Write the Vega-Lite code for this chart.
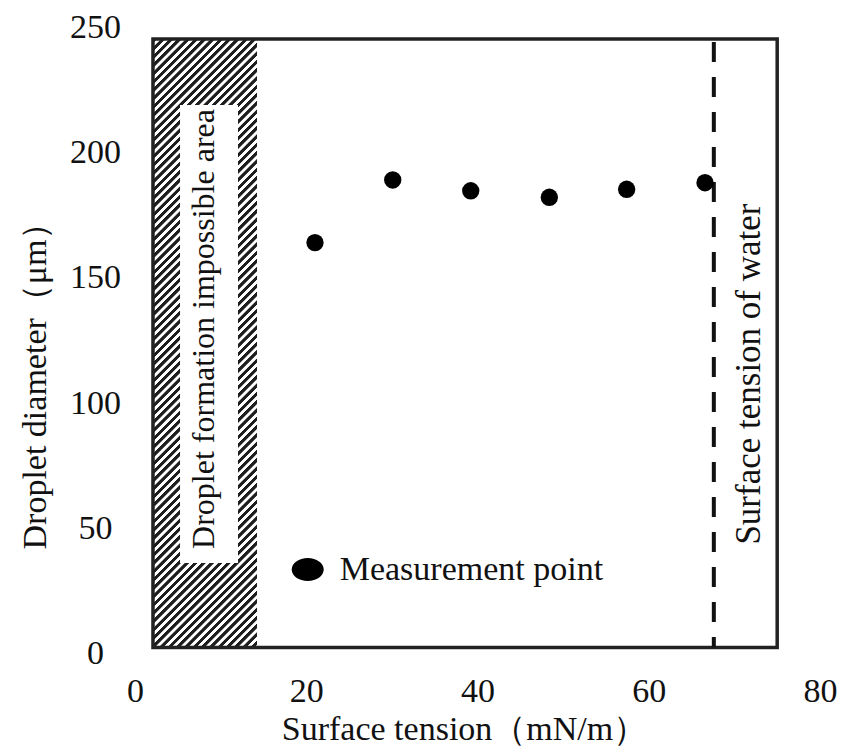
{
  "$schema": "https://vega.github.io/schema/vega-lite/v6.json",
  "width": 685,
  "height": 626,
  "autosize": {"type": "none"},
  "padding": {"left": 135, "top": 27.5, "right": 22, "bottom": 93.5},
  "background": "#ffffff",
  "config": {
    "view": {"stroke": null},
    "axis": {
      "labelFont": "Liberation Serif", "titleFont": "Liberation Serif",
      "labelFontSize": 34, "titleFontSize": 34, "titleFontWeight": "normal",
      "labelColor": "#111111", "titleColor": "#111111",
      "ticks": false, "domain": false, "grid": false,
      "labelFlush": false, "labelOverlap": false, "labelBound": false
    }
  },
  "layer": [
    {
      "data": {"values": [{"from": 2.1, "to": 14.25, "low": 2.4, "high": 245.4}]},
      "mark": {"type": "rect", "strokeWidth": 0,
        "fill": {"gradient": "linear", "x1": 0, "y1": 0, "x2": 0.2265, "y2": 1.3254, "stops": [
{"offset":0,"color":"#1e1e1e"},{"offset":0.0045,"color":"#1e1e1e"},{"offset":0.0055,"color":"#fff"},{"offset":0.0095,"color":"#fff"},
{"offset":0.01,"color":"#1e1e1e"},{"offset":0.0145,"color":"#1e1e1e"},{"offset":0.0155,"color":"#fff"},{"offset":0.0195,"color":"#fff"},
{"offset":0.02,"color":"#1e1e1e"},{"offset":0.0245,"color":"#1e1e1e"},{"offset":0.0255,"color":"#fff"},{"offset":0.0295,"color":"#fff"},
{"offset":0.03,"color":"#1e1e1e"},{"offset":0.0345,"color":"#1e1e1e"},{"offset":0.0355,"color":"#fff"},{"offset":0.0395,"color":"#fff"},
{"offset":0.04,"color":"#1e1e1e"},{"offset":0.0445,"color":"#1e1e1e"},{"offset":0.0455,"color":"#fff"},{"offset":0.0495,"color":"#fff"},
{"offset":0.05,"color":"#1e1e1e"},{"offset":0.0545,"color":"#1e1e1e"},{"offset":0.0555,"color":"#fff"},{"offset":0.0595,"color":"#fff"},
{"offset":0.06,"color":"#1e1e1e"},{"offset":0.0645,"color":"#1e1e1e"},{"offset":0.0655,"color":"#fff"},{"offset":0.0695,"color":"#fff"},
{"offset":0.07,"color":"#1e1e1e"},{"offset":0.0745,"color":"#1e1e1e"},{"offset":0.0755,"color":"#fff"},{"offset":0.0795,"color":"#fff"},
{"offset":0.08,"color":"#1e1e1e"},{"offset":0.0845,"color":"#1e1e1e"},{"offset":0.0855,"color":"#fff"},{"offset":0.0895,"color":"#fff"},
{"offset":0.09,"color":"#1e1e1e"},{"offset":0.0945,"color":"#1e1e1e"},{"offset":0.0955,"color":"#fff"},{"offset":0.0995,"color":"#fff"},
{"offset":0.10,"color":"#1e1e1e"},{"offset":0.1045,"color":"#1e1e1e"},{"offset":0.1055,"color":"#fff"},{"offset":0.1095,"color":"#fff"},
{"offset":0.11,"color":"#1e1e1e"},{"offset":0.1145,"color":"#1e1e1e"},{"offset":0.1155,"color":"#fff"},{"offset":0.1195,"color":"#fff"},
{"offset":0.12,"color":"#1e1e1e"},{"offset":0.1245,"color":"#1e1e1e"},{"offset":0.1255,"color":"#fff"},{"offset":0.1295,"color":"#fff"},
{"offset":0.13,"color":"#1e1e1e"},{"offset":0.1345,"color":"#1e1e1e"},{"offset":0.1355,"color":"#fff"},{"offset":0.1395,"color":"#fff"},
{"offset":0.14,"color":"#1e1e1e"},{"offset":0.1445,"color":"#1e1e1e"},{"offset":0.1455,"color":"#fff"},{"offset":0.1495,"color":"#fff"},
{"offset":0.15,"color":"#1e1e1e"},{"offset":0.1545,"color":"#1e1e1e"},{"offset":0.1555,"color":"#fff"},{"offset":0.1595,"color":"#fff"},
{"offset":0.16,"color":"#1e1e1e"},{"offset":0.1645,"color":"#1e1e1e"},{"offset":0.1655,"color":"#fff"},{"offset":0.1695,"color":"#fff"},
{"offset":0.17,"color":"#1e1e1e"},{"offset":0.1745,"color":"#1e1e1e"},{"offset":0.1755,"color":"#fff"},{"offset":0.1795,"color":"#fff"},
{"offset":0.18,"color":"#1e1e1e"},{"offset":0.1845,"color":"#1e1e1e"},{"offset":0.1855,"color":"#fff"},{"offset":0.1895,"color":"#fff"},
{"offset":0.19,"color":"#1e1e1e"},{"offset":0.1945,"color":"#1e1e1e"},{"offset":0.1955,"color":"#fff"},{"offset":0.1995,"color":"#fff"},
{"offset":0.20,"color":"#1e1e1e"},{"offset":0.2045,"color":"#1e1e1e"},{"offset":0.2055,"color":"#fff"},{"offset":0.2095,"color":"#fff"},
{"offset":0.21,"color":"#1e1e1e"},{"offset":0.2145,"color":"#1e1e1e"},{"offset":0.2155,"color":"#fff"},{"offset":0.2195,"color":"#fff"},
{"offset":0.22,"color":"#1e1e1e"},{"offset":0.2245,"color":"#1e1e1e"},{"offset":0.2255,"color":"#fff"},{"offset":0.2295,"color":"#fff"},
{"offset":0.23,"color":"#1e1e1e"},{"offset":0.2345,"color":"#1e1e1e"},{"offset":0.2355,"color":"#fff"},{"offset":0.2395,"color":"#fff"},
{"offset":0.24,"color":"#1e1e1e"},{"offset":0.2445,"color":"#1e1e1e"},{"offset":0.2455,"color":"#fff"},{"offset":0.2495,"color":"#fff"},
{"offset":0.25,"color":"#1e1e1e"},{"offset":0.2545,"color":"#1e1e1e"},{"offset":0.2555,"color":"#fff"},{"offset":0.2595,"color":"#fff"},
{"offset":0.26,"color":"#1e1e1e"},{"offset":0.2645,"color":"#1e1e1e"},{"offset":0.2655,"color":"#fff"},{"offset":0.2695,"color":"#fff"},
{"offset":0.27,"color":"#1e1e1e"},{"offset":0.2745,"color":"#1e1e1e"},{"offset":0.2755,"color":"#fff"},{"offset":0.2795,"color":"#fff"},
{"offset":0.28,"color":"#1e1e1e"},{"offset":0.2845,"color":"#1e1e1e"},{"offset":0.2855,"color":"#fff"},{"offset":0.2895,"color":"#fff"},
{"offset":0.29,"color":"#1e1e1e"},{"offset":0.2945,"color":"#1e1e1e"},{"offset":0.2955,"color":"#fff"},{"offset":0.2995,"color":"#fff"},
{"offset":0.30,"color":"#1e1e1e"},{"offset":0.3045,"color":"#1e1e1e"},{"offset":0.3055,"color":"#fff"},{"offset":0.3095,"color":"#fff"},
{"offset":0.31,"color":"#1e1e1e"},{"offset":0.3145,"color":"#1e1e1e"},{"offset":0.3155,"color":"#fff"},{"offset":0.3195,"color":"#fff"},
{"offset":0.32,"color":"#1e1e1e"},{"offset":0.3245,"color":"#1e1e1e"},{"offset":0.3255,"color":"#fff"},{"offset":0.3295,"color":"#fff"},
{"offset":0.33,"color":"#1e1e1e"},{"offset":0.3345,"color":"#1e1e1e"},{"offset":0.3355,"color":"#fff"},{"offset":0.3395,"color":"#fff"},
{"offset":0.34,"color":"#1e1e1e"},{"offset":0.3445,"color":"#1e1e1e"},{"offset":0.3455,"color":"#fff"},{"offset":0.3495,"color":"#fff"},
{"offset":0.35,"color":"#1e1e1e"},{"offset":0.3545,"color":"#1e1e1e"},{"offset":0.3555,"color":"#fff"},{"offset":0.3595,"color":"#fff"},
{"offset":0.36,"color":"#1e1e1e"},{"offset":0.3645,"color":"#1e1e1e"},{"offset":0.3655,"color":"#fff"},{"offset":0.3695,"color":"#fff"},
{"offset":0.37,"color":"#1e1e1e"},{"offset":0.3745,"color":"#1e1e1e"},{"offset":0.3755,"color":"#fff"},{"offset":0.3795,"color":"#fff"},
{"offset":0.38,"color":"#1e1e1e"},{"offset":0.3845,"color":"#1e1e1e"},{"offset":0.3855,"color":"#fff"},{"offset":0.3895,"color":"#fff"},
{"offset":0.39,"color":"#1e1e1e"},{"offset":0.3945,"color":"#1e1e1e"},{"offset":0.3955,"color":"#fff"},{"offset":0.3995,"color":"#fff"},
{"offset":0.40,"color":"#1e1e1e"},{"offset":0.4045,"color":"#1e1e1e"},{"offset":0.4055,"color":"#fff"},{"offset":0.4095,"color":"#fff"},
{"offset":0.41,"color":"#1e1e1e"},{"offset":0.4145,"color":"#1e1e1e"},{"offset":0.4155,"color":"#fff"},{"offset":0.4195,"color":"#fff"},
{"offset":0.42,"color":"#1e1e1e"},{"offset":0.4245,"color":"#1e1e1e"},{"offset":0.4255,"color":"#fff"},{"offset":0.4295,"color":"#fff"},
{"offset":0.43,"color":"#1e1e1e"},{"offset":0.4345,"color":"#1e1e1e"},{"offset":0.4355,"color":"#fff"},{"offset":0.4395,"color":"#fff"},
{"offset":0.44,"color":"#1e1e1e"},{"offset":0.4445,"color":"#1e1e1e"},{"offset":0.4455,"color":"#fff"},{"offset":0.4495,"color":"#fff"},
{"offset":0.45,"color":"#1e1e1e"},{"offset":0.4545,"color":"#1e1e1e"},{"offset":0.4555,"color":"#fff"},{"offset":0.4595,"color":"#fff"},
{"offset":0.46,"color":"#1e1e1e"},{"offset":0.4645,"color":"#1e1e1e"},{"offset":0.4655,"color":"#fff"},{"offset":0.4695,"color":"#fff"},
{"offset":0.47,"color":"#1e1e1e"},{"offset":0.4745,"color":"#1e1e1e"},{"offset":0.4755,"color":"#fff"},{"offset":0.4795,"color":"#fff"},
{"offset":0.48,"color":"#1e1e1e"},{"offset":0.4845,"color":"#1e1e1e"},{"offset":0.4855,"color":"#fff"},{"offset":0.4895,"color":"#fff"},
{"offset":0.49,"color":"#1e1e1e"},{"offset":0.4945,"color":"#1e1e1e"},{"offset":0.4955,"color":"#fff"},{"offset":0.4995,"color":"#fff"},
{"offset":0.50,"color":"#1e1e1e"},{"offset":0.5045,"color":"#1e1e1e"},{"offset":0.5055,"color":"#fff"},{"offset":0.5095,"color":"#fff"},
{"offset":0.51,"color":"#1e1e1e"},{"offset":0.5145,"color":"#1e1e1e"},{"offset":0.5155,"color":"#fff"},{"offset":0.5195,"color":"#fff"},
{"offset":0.52,"color":"#1e1e1e"},{"offset":0.5245,"color":"#1e1e1e"},{"offset":0.5255,"color":"#fff"},{"offset":0.5295,"color":"#fff"},
{"offset":0.53,"color":"#1e1e1e"},{"offset":0.5345,"color":"#1e1e1e"},{"offset":0.5355,"color":"#fff"},{"offset":0.5395,"color":"#fff"},
{"offset":0.54,"color":"#1e1e1e"},{"offset":0.5445,"color":"#1e1e1e"},{"offset":0.5455,"color":"#fff"},{"offset":0.5495,"color":"#fff"},
{"offset":0.55,"color":"#1e1e1e"},{"offset":0.5545,"color":"#1e1e1e"},{"offset":0.5555,"color":"#fff"},{"offset":0.5595,"color":"#fff"},
{"offset":0.56,"color":"#1e1e1e"},{"offset":0.5645,"color":"#1e1e1e"},{"offset":0.5655,"color":"#fff"},{"offset":0.5695,"color":"#fff"},
{"offset":0.57,"color":"#1e1e1e"},{"offset":0.5745,"color":"#1e1e1e"},{"offset":0.5755,"color":"#fff"},{"offset":0.5795,"color":"#fff"},
{"offset":0.58,"color":"#1e1e1e"},{"offset":0.5845,"color":"#1e1e1e"},{"offset":0.5855,"color":"#fff"},{"offset":0.5895,"color":"#fff"},
{"offset":0.59,"color":"#1e1e1e"},{"offset":0.5945,"color":"#1e1e1e"},{"offset":0.5955,"color":"#fff"},{"offset":0.5995,"color":"#fff"},
{"offset":0.60,"color":"#1e1e1e"},{"offset":0.6045,"color":"#1e1e1e"},{"offset":0.6055,"color":"#fff"},{"offset":0.6095,"color":"#fff"},
{"offset":0.61,"color":"#1e1e1e"},{"offset":0.6145,"color":"#1e1e1e"},{"offset":0.6155,"color":"#fff"},{"offset":0.6195,"color":"#fff"},
{"offset":0.62,"color":"#1e1e1e"},{"offset":0.6245,"color":"#1e1e1e"},{"offset":0.6255,"color":"#fff"},{"offset":0.6295,"color":"#fff"},
{"offset":0.63,"color":"#1e1e1e"},{"offset":0.6345,"color":"#1e1e1e"},{"offset":0.6355,"color":"#fff"},{"offset":0.6395,"color":"#fff"},
{"offset":0.64,"color":"#1e1e1e"},{"offset":0.6445,"color":"#1e1e1e"},{"offset":0.6455,"color":"#fff"},{"offset":0.6495,"color":"#fff"},
{"offset":0.65,"color":"#1e1e1e"},{"offset":0.6545,"color":"#1e1e1e"},{"offset":0.6555,"color":"#fff"},{"offset":0.6595,"color":"#fff"},
{"offset":0.66,"color":"#1e1e1e"},{"offset":0.6645,"color":"#1e1e1e"},{"offset":0.6655,"color":"#fff"},{"offset":0.6695,"color":"#fff"},
{"offset":0.67,"color":"#1e1e1e"},{"offset":0.6745,"color":"#1e1e1e"},{"offset":0.6755,"color":"#fff"},{"offset":0.6795,"color":"#fff"},
{"offset":0.68,"color":"#1e1e1e"},{"offset":0.6845,"color":"#1e1e1e"},{"offset":0.6855,"color":"#fff"},{"offset":0.6895,"color":"#fff"},
{"offset":0.69,"color":"#1e1e1e"},{"offset":0.6945,"color":"#1e1e1e"},{"offset":0.6955,"color":"#fff"},{"offset":0.6995,"color":"#fff"},
{"offset":0.70,"color":"#1e1e1e"},{"offset":0.7045,"color":"#1e1e1e"},{"offset":0.7055,"color":"#fff"},{"offset":0.7095,"color":"#fff"},
{"offset":0.71,"color":"#1e1e1e"},{"offset":0.7145,"color":"#1e1e1e"},{"offset":0.7155,"color":"#fff"},{"offset":0.7195,"color":"#fff"},
{"offset":0.72,"color":"#1e1e1e"},{"offset":0.7245,"color":"#1e1e1e"},{"offset":0.7255,"color":"#fff"},{"offset":0.7295,"color":"#fff"},
{"offset":0.73,"color":"#1e1e1e"},{"offset":0.7345,"color":"#1e1e1e"},{"offset":0.7355,"color":"#fff"},{"offset":0.7395,"color":"#fff"},
{"offset":0.74,"color":"#1e1e1e"},{"offset":0.7445,"color":"#1e1e1e"},{"offset":0.7455,"color":"#fff"},{"offset":0.7495,"color":"#fff"},
{"offset":0.75,"color":"#1e1e1e"},{"offset":0.7545,"color":"#1e1e1e"},{"offset":0.7555,"color":"#fff"},{"offset":0.7595,"color":"#fff"},
{"offset":0.76,"color":"#1e1e1e"},{"offset":0.7645,"color":"#1e1e1e"},{"offset":0.7655,"color":"#fff"},{"offset":0.7695,"color":"#fff"},
{"offset":0.77,"color":"#1e1e1e"},{"offset":0.7745,"color":"#1e1e1e"},{"offset":0.7755,"color":"#fff"},{"offset":0.7795,"color":"#fff"},
{"offset":0.78,"color":"#1e1e1e"},{"offset":0.7845,"color":"#1e1e1e"},{"offset":0.7855,"color":"#fff"},{"offset":0.7895,"color":"#fff"},
{"offset":0.79,"color":"#1e1e1e"},{"offset":0.7945,"color":"#1e1e1e"},{"offset":0.7955,"color":"#fff"},{"offset":0.7995,"color":"#fff"},
{"offset":0.80,"color":"#1e1e1e"},{"offset":0.8045,"color":"#1e1e1e"},{"offset":0.8055,"color":"#fff"},{"offset":0.8095,"color":"#fff"},
{"offset":0.81,"color":"#1e1e1e"},{"offset":0.8145,"color":"#1e1e1e"},{"offset":0.8155,"color":"#fff"},{"offset":0.8195,"color":"#fff"},
{"offset":0.82,"color":"#1e1e1e"},{"offset":0.8245,"color":"#1e1e1e"},{"offset":0.8255,"color":"#fff"},{"offset":0.8295,"color":"#fff"},
{"offset":0.83,"color":"#1e1e1e"},{"offset":0.8345,"color":"#1e1e1e"},{"offset":0.8355,"color":"#fff"},{"offset":0.8395,"color":"#fff"},
{"offset":0.84,"color":"#1e1e1e"},{"offset":0.8445,"color":"#1e1e1e"},{"offset":0.8455,"color":"#fff"},{"offset":0.8495,"color":"#fff"},
{"offset":0.85,"color":"#1e1e1e"},{"offset":0.8545,"color":"#1e1e1e"},{"offset":0.8555,"color":"#fff"},{"offset":0.8595,"color":"#fff"},
{"offset":0.86,"color":"#1e1e1e"},{"offset":0.8645,"color":"#1e1e1e"},{"offset":0.8655,"color":"#fff"},{"offset":0.8695,"color":"#fff"}
        ]}},
      "encoding": {
        "x": {"field": "from", "type": "quantitative", "scale": {"domain": [0, 80], "nice": false}, "title": "Surface tension（mN/m）"},
        "x2": {"field": "to"},
        "y": {"field": "low", "type": "quantitative", "scale": {"domain": [0, 250], "nice": false}, "title": "Droplet diameter（μm）"},
        "y2": {"field": "high"}
      }
    },
    {
      "data": {"values": [{"from": 5.26, "to": 12.03, "low": 36.1, "high": 219.0}]},
      "mark": {"type": "rect", "fill": "#ffffff", "strokeWidth": 0},
      "encoding": {
        "x": {"field": "from", "type": "quantitative", "title": "Surface tension（mN/m）"},
        "x2": {"field": "to"},
        "y": {"field": "low", "type": "quantitative", "title": "Droplet diameter（μm）"},
        "y2": {"field": "high"}
      }
    },
    {
      "data": {"values": [{"from": 2.1, "to": 75.0, "low": 2.4, "high": 245.4}]},
      "mark": {"type": "rect", "fillOpacity": 0, "stroke": "#222222", "strokeWidth": 3.5},
      "encoding": {
        "x": {"field": "from", "type": "quantitative", "title": "Surface tension（mN/m）"},
        "x2": {"field": "to"},
        "y": {"field": "low", "type": "quantitative", "title": "Droplet diameter（μm）"},
        "y2": {"field": "high"}
      }
    },
    {
      "data": {"values": [{"water": 67.6, "low": 2.4, "high": 245.4}]},
      "mark": {"type": "rule", "stroke": "#111111", "strokeWidth": 4, "strokeDash": [20, 15], "strokeDashOffset": -3},
      "encoding": {
        "x": {"field": "water", "type": "quantitative", "title": "Surface tension（mN/m）"},
        "y": {"field": "high", "type": "quantitative", "title": "Droplet diameter（μm）"},
        "y2": {"field": "low"}
      }
    },
    {
      "data": {"values": [
        {"label": "Droplet formation impossible area", "tx": 8.1, "ty": 129.6}
      ]},
      "mark": {"type": "text", "angle": 270, "align": "center", "baseline": "middle", "font": "Liberation Serif", "fontSize": 32, "color": "#111111"},
      "encoding": {
        "x": {"field": "tx", "type": "quantitative", "title": "Surface tension（mN/m）"},
        "y": {"field": "ty", "type": "quantitative", "title": "Droplet diameter（μm）"},
        "text": {"field": "label"}
      }
    },
    {
      "data": {"values": [
        {"label": "Surface tension of water", "tx": 71.7, "ty": 111.6}
      ]},
      "mark": {"type": "text", "angle": 270, "align": "center", "baseline": "middle", "font": "Liberation Serif", "fontSize": 35, "color": "#111111"},
      "encoding": {
        "x": {"field": "tx", "type": "quantitative", "title": "Surface tension（mN/m）"},
        "y": {"field": "ty", "type": "quantitative", "title": "Droplet diameter（μm）"},
        "text": {"field": "label"}
      }
    },
    {
      "data": {"values": [
        {"tension": 21.02, "diameter": 164.1, "series": "Measurement point"},
        {"tension": 30.10, "diameter": 189.1, "series": "Measurement point"},
        {"tension": 39.21, "diameter": 184.8, "series": "Measurement point"},
        {"tension": 48.39, "diameter": 182.2, "series": "Measurement point"},
        {"tension": 57.42, "diameter": 185.4, "series": "Measurement point"},
        {"tension": 66.57, "diameter": 188.0, "series": "Measurement point"}
      ]},
      "mark": {"type": "point", "filled": true, "size": 300, "opacity": 1, "strokeWidth": 0},
      "encoding": {
        "x": {"field": "tension", "type": "quantitative", "title": "Surface tension（mN/m）",
          "axis": {"values": [0, 20, 40, 60, 80], "labelPadding": 21, "titleX": 329, "titleY": 86, "titleBaseline": "alphabetic", "titleAlign": "center"}},
        "y": {"field": "diameter", "type": "quantitative", "title": "Droplet diameter（μm）",
          "axis": {"values": [0, 50, 100, 150, 200, 250], "labelPadding": 40, "labelAlign": "center", "titleX": -90, "titleY": 349.5, "titleAngle": 270, "titleBaseline": "alphabetic", "titleAlign": "center"}},
        "color": {"field": "series", "type": "nominal", "scale": {"range": ["#000000"]},
          "legend": {"orient": "none", "legendX": 155.7, "legendY": 525, "title": null, "padding": 0,
            "symbolType": "M-1,0A1,0.72,0,1,1,1,0A1,0.72,0,1,1,-1,0Z", "symbolSize": 1024,
            "symbolFillColor": "#000000", "symbolStrokeWidth": 0, "symbolOpacity": 1,
            "labelFont": "Liberation Serif", "labelFontSize": 34, "labelColor": "#111111", "labelOffset": 15, "labelLimit": 0}}
      }
    }
  ]
}
